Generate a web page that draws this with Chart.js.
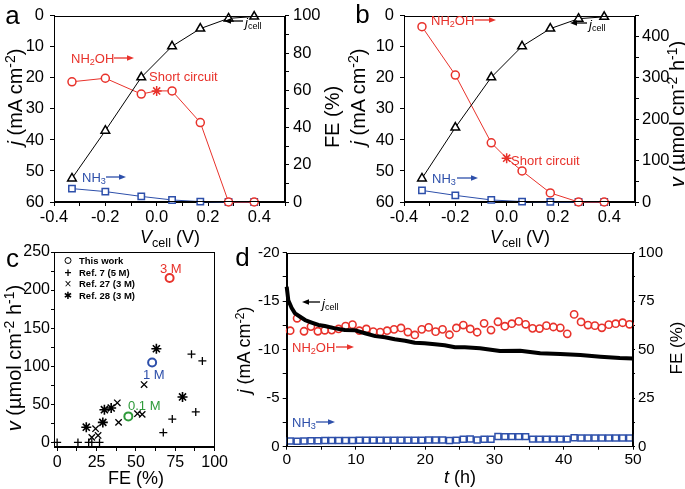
<!DOCTYPE html>
<html><head><meta charset="utf-8">
<script src="https://cdn.jsdelivr.net/npm/chart.js@4.4.1/dist/chart.umd.min.js"></script>
<style>
body{margin:0;background:#fff;}
#wrap{position:relative;width:685px;height:489px;overflow:hidden;font-family:"Liberation Sans",Arial,sans-serif;background:#fff;}
.box{position:absolute;}
.t{position:absolute;white-space:nowrap;line-height:1;}
.t sub{font-size:0.7em;vertical-align:-0.3em;line-height:0;}
.t sup{font-size:0.7em;vertical-align:0.5em;line-height:0;}
</style></head><body><div id="wrap">
<div class="box" style="left:0;top:0;width:345px;height:240px"><canvas id="ca" width="345" height="240"></canvas></div>
<div class="box" style="left:345px;top:0;width:340px;height:240px"><canvas id="cb" width="340" height="240"></canvas></div>
<div class="box" style="left:0;top:240px;width:230px;height:249px"><canvas id="cc" width="230" height="249"></canvas></div>
<div class="box" style="left:230px;top:240px;width:455px;height:249px"><canvas id="cd" width="455" height="249"></canvas></div>
</div>
<script>
// ---------------- DATA ----------------
// Panels a & b: cell voltage (V)
const vcell = [-0.33, -0.2, -0.06, 0.06, 0.17, 0.28, 0.38];
const jcellA = [52.4, 37, 19.8, 9.8, 4.1, 0.8, 0.2];          // mA cm-2
const jcellB = [52.4, 36, 19.8, 9.8, 4.1, 0.9, 0.3];
// NH2OH series include the short-circuit point at 0 V (index 3)
const vNH2OH = [-0.33, -0.2, -0.06, 0.0, 0.06, 0.17, 0.28, 0.38];
const feNH2OH_a = [64.6, 66.5, 58.0, 59.7, 59.7, 42.7, 0, 0];   // FE %
const feNH3_a = [7.2, 5.6, 3.0, 1.1, 0.2, 0, 0];
const rateNH2OH_b = [424, 307, 143, 106, 75, 22, 0, 0];         // umol cm-2 h-1
const rateNH3_b = [28, 16, 5, 1, 0.3, 0, 0];
const shortCircuitIndex = 3;

// Panel c
const thisWorkFE = [45.2, 60.3, 71.4];
const thisWorkV = [34.2, 104.9, 215.8];
const thisWorkConc = ['0.1 M', '1 M', '3 M'];
const ref7FE = [0, 13.2, 20, 22, 26.9, 67.4, 73.1, 88, 85.3, 92.2];
const ref7V = [0, 0, 0, 0, 0, 13, 30.7, 40, 115.8, 107];
const ref27FE = [22, 24.4, 26, 39, 38.2, 51, 54, 55.2];
const ref27V = [6.6, 18, 9.2, 26.3, 52, 37.7, 36.8, 76];
const ref28FE = [18.5, 29, 30, 34.3, 63, 79.6];
const ref28V = [20, 26.3, 43, 45.2, 123, 59.7];
const legendC = ['This work', 'Ref. 7 (5 M)', 'Ref. 27 (3 M)', 'Ref. 28 (3 M)'];

// Panel d
const tCurve = [0, 0.23, 0.72, 1.2, 1.93, 2.65, 3.6, 4.57, 5.5, 6.98, 8.4, 9.9, 11.3, 12.8, 14.2, 15.6, 17.1, 18.5, 19.9, 21.4, 22.8, 24.3, 25.7, 27.9, 30.8, 33.7, 36.6, 39.5, 42.4, 45.3, 48.1, 50];
const jCurve = [-16.5, -15.1, -14.3, -13.75, -13.4, -13.06, -12.8, -12.55, -12.44, -12.2, -12.03, -12.0, -11.7, -11.4, -11.28, -11.07, -10.93, -10.72, -10.66, -10.56, -10.45, -10.25, -10.25, -10.14, -9.87, -9.9, -9.63, -9.56, -9.45, -9.28, -9.14, -9.1];
const tFE = [0.5, 1.5, 2.5, 3.5, 4.5, 5.5, 6.5, 7.5, 8.5, 9.5, 10.5, 11.5, 12.5, 13.5, 14.5, 15.5, 16.5, 17.5, 18.5, 19.5, 20.5, 21.5, 22.5, 23.5, 24.5, 25.5, 26.5, 27.5, 28.5, 29.5, 30.5, 31.5, 32.5, 33.5, 34.5, 35.5, 36.5, 37.5, 38.5, 39.5, 40.5, 41.5, 42.5, 43.5, 44.5, 45.5, 46.5, 47.5, 48.5, 49.5];
const feNH2OH_d = [59.8, 66.2, 59.5, 61.9, 59.5, 60, 60.1, 60.7, 62.2, 62.9, 59.8, 60.7, 59.3, 59.1, 59.8, 60.5, 61.2, 59.1, 57.6, 60.5, 61.5, 59.3, 60.5, 57.7, 61.2, 62.7, 60.7, 59, 63.6, 60.1, 64.4, 62.1, 63.4, 64.6, 63.1, 61, 60.9, 62.4, 61.7, 61.3, 58.2, 68.2, 64.3, 62.7, 62.4, 61.3, 62.9, 63.4, 63.9, 63.1];
const feNH3_d = [2.9, 2.8, 2.9, 3.1, 3.1, 3.2, 3.2, 3.2, 3.2, 3.2, 3.3, 3.3, 3.3, 3.3, 3.3, 3.3, 3.3, 3.3, 3.3, 3.3, 3.5, 3.5, 3.5, 3.2, 3.4, 3.8, 4.0, 3.5, 3.8, 3.8, 5.3, 5.2, 5.2, 5.2, 5.2, 3.9, 3.9, 3.9, 3.9, 3.9, 3.9, 4.6, 4.5, 4.5, 4.5, 4.5, 4.5, 4.5, 4.5, 4.5];

// Tick labels
const ticksV = [-0.4, -0.2, 0.0, 0.2, 0.4];
const ticksJab = [0, 10, 20, 30, 40, 50, 60];
const ticksFEa = [0, 20, 40, 60, 80, 100];
const ticksRateB = [0, 100, 200, 300, 400];
const ticksFEc = [0, 25, 50, 75, 100];
const ticksRateC = [0, 50, 100, 150, 200, 250];
const ticksT = [0, 10, 20, 30, 40, 50];
const ticksJd = [-20, -15, -10, -5, 0];
const ticksFEd = [0, 25, 50, 75, 100];

// ---------------- STYLE ----------------
const RED = '#e8322b', BLUE = '#2d4faa', GREEN = '#2e9a3a', BLACK = '#000';
Chart.defaults.font.family = '"Liberation Sans", Arial, sans-serif';
Chart.defaults.color = '#000';

function xy(xs, ys) { return xs.map((x, i) => ({x: x, y: ys[i]})); }

function mkAxis(o) {
  return {
    type: 'linear', position: o.position, min: o.min, max: o.max, reverse: !!o.reverse,
    afterFit: s => { if (o.width !== undefined) s.width = o.width; if (o.height !== undefined) s.height = o.height; },
    border: {display: true, color: '#000', width: 1},
    grid: {display: true, drawOnChartArea: false, drawTicks: true, tickLength: o.tick === undefined ? 4 : o.tick, color: '#000', tickColor: '#000', lineWidth: 1},
    ticks: {stepSize: o.step, autoSkip: false, maxRotation: 0, minRotation: 0, includeBounds: false,
      padding: o.pad === undefined ? 3 : o.pad, color: '#000', font: {size: o.font || 16},
      callback: v => { const m = o.labels.find(l => Math.abs(l - v) < 1e-6); return m === undefined ? '' : o.fmt(m); }}
  };
}
const f1 = v => (Math.abs(v) < 1e-9 ? '0.0' : v.toFixed(1));
const f0 = v => String(v);

const frame = {id: 'frame', afterDraw(chart) {
  const a = chart.chartArea, c = chart.ctx;
  c.save(); c.strokeStyle = '#000'; c.lineWidth = 1;
  c.strokeRect(Math.round(a.left) + 0.5, Math.round(a.top) + 0.5, Math.round(a.right - a.left) - 1, Math.round(a.bottom - a.top) - 1);
  c.restore();
}};

function baseOpts(pad, scales) {
  return {responsive: false, animation: false, events: [],
    layout: {padding: pad},
    plugins: {legend: {display: false}, tooltip: {enabled: false}},
    scales: scales};
}

// ---------- Panel a ----------
const redStylesAB = vNH2OH.map((v, i) => i === shortCircuitIndex ? 'star' : 'circle');
const redRadAB = vNH2OH.map((v, i) => i === shortCircuitIndex ? 5 : 4);
new Chart(document.getElementById('ca'), {
  type: 'line',
  data: {datasets: [
    {data: xy(vcell, jcellA), yAxisID: 'y', borderColor: BLACK, borderWidth: 1, pointStyle: 'triangle', pointRadius: 5, pointBorderWidth: 1.5, pointBackgroundColor: '#fff', pointBorderColor: BLACK, clip: false},
    {data: xy(vNH2OH, feNH2OH_a), yAxisID: 'y2', borderColor: RED, borderWidth: 1, pointStyle: redStylesAB, pointRadius: redRadAB, pointBorderWidth: 1.5, pointBackgroundColor: '#fff', pointBorderColor: RED, clip: false},
    {data: xy(vcell, feNH3_a), yAxisID: 'y2', borderColor: BLUE, borderWidth: 1, pointStyle: 'rect', pointRadius: 4.5, pointBorderWidth: 1.5, pointBackgroundColor: '#fff', pointBorderColor: BLUE, clip: false}
  ]},
  options: baseOpts({top: 7.5},
    {x: mkAxis({position: 'bottom', min: -0.4, max: 0.5, step: 0.1, labels: ticksV, fmt: f1, height: 38, pad: 2, font: 16.5}),
     y: mkAxis({position: 'left', min: 0, max: 60, step: 10, reverse: true, labels: ticksJab, fmt: f0, width: 54, pad: 6, font: 16.5}),
     y2: mkAxis({position: 'right', min: 0, max: 100, step: 10, labels: ticksFEa, fmt: f0, width: 60, pad: 4, font: 16.5})}),
  plugins: [frame]
});

// ---------- Panel b ----------
new Chart(document.getElementById('cb'), {
  type: 'line',
  data: {datasets: [
    {data: xy(vcell, jcellB), yAxisID: 'y', borderColor: BLACK, borderWidth: 1, pointStyle: 'triangle', pointRadius: 5, pointBorderWidth: 1.5, pointBackgroundColor: '#fff', pointBorderColor: BLACK, clip: false},
    {data: xy(vNH2OH, rateNH2OH_b), yAxisID: 'y2', borderColor: RED, borderWidth: 1, pointStyle: redStylesAB, pointRadius: redRadAB, pointBorderWidth: 1.5, pointBackgroundColor: '#fff', pointBorderColor: RED, clip: false},
    {data: xy(vcell, rateNH3_b), yAxisID: 'y2', borderColor: BLUE, borderWidth: 1, pointStyle: 'rect', pointRadius: 4.5, pointBorderWidth: 1.5, pointBackgroundColor: '#fff', pointBorderColor: BLUE, clip: false}
  ]},
  options: baseOpts({top: 7.5},
    {x: mkAxis({position: 'bottom', min: -0.4, max: 0.5, step: 0.1, labels: ticksV, fmt: f1, height: 38, pad: 2, font: 16.5}),
     y: mkAxis({position: 'left', min: 0, max: 60, step: 10, reverse: true, labels: ticksJab, fmt: f0, width: 59, pad: 6, font: 16.5}),
     y2: mkAxis({position: 'right', min: 0, max: 450, step: 50, labels: ticksRateB, fmt: f0, width: 50, pad: 3, font: 16.5})}),
  plugins: [frame]
});

// ---------- Panel c ----------
new Chart(document.getElementById('cc'), {
  type: 'scatter',
  data: {datasets: [
    {data: xy(thisWorkFE, thisWorkV), pointStyle: 'circle', pointRadius: 4, pointBorderWidth: 2, pointBackgroundColor: '#fff', pointBorderColor: [GREEN, BLUE, RED], clip: false},
    {data: xy(ref7FE, ref7V), pointStyle: 'cross', pointRadius: 4, pointBorderWidth: 1.3, pointBorderColor: BLACK, clip: false},
    {data: xy(ref27FE, ref27V), pointStyle: 'crossRot', pointRadius: 4.5, pointBorderWidth: 1.3, pointBorderColor: BLACK, clip: false},
    {data: xy(ref28FE, ref28V), pointStyle: 'star', pointRadius: 5, pointBorderWidth: 1.6, pointBorderColor: BLACK, clip: false}
  ]},
  options: baseOpts({top: 12, right: 14},
    {x: mkAxis({position: 'bottom', min: -2, max: 100, step: 12.5, labels: ticksFEc, fmt: f0, height: 42, tick: 4, pad: 2, font: 16}),
     y: mkAxis({position: 'left', min: -6, max: 250, step: 25, labels: ticksRateC, fmt: f0, width: 54, tick: 3, pad: 1, font: 16})}),
  plugins: [frame]
});

// ---------- Panel d ----------
new Chart(document.getElementById('cd'), {
  type: 'line',
  data: {datasets: [
    {data: xy(tCurve, jCurve), yAxisID: 'y', borderColor: BLACK, borderWidth: 4, pointRadius: 0, borderJoinStyle: 'round', clip: false},
    {data: xy(tFE, feNH2OH_d), yAxisID: 'y2', showLine: false, pointStyle: 'circle', pointRadius: 3.6, pointBorderWidth: 1.6, pointBackgroundColor: 'rgba(255,255,255,0)', pointBorderColor: RED, clip: false},
    {data: xy(tFE, feNH3_d), yAxisID: 'y2', showLine: false, pointStyle: 'rect', pointRadius: 4.2, pointBorderWidth: 1.5, pointBackgroundColor: 'rgba(255,255,255,0)', pointBorderColor: BLUE, clip: false}
  ]},
  options: baseOpts({top: 12.7},
    {x: mkAxis({position: 'bottom', min: 0, max: 50, step: 5, labels: ticksT, fmt: f0, height: 42.3, tick: 3, pad: 1, font: 15.5}),
     y: mkAxis({position: 'left', min: -20, max: 0, step: 2.5, reverse: true, labels: ticksJd, fmt: f0, width: 56.7, tick: 4, pad: 3, font: 15}),
     y2: mkAxis({position: 'right', min: 0, max: 100, step: 12.5, labels: ticksFEd, fmt: f0, width: 52, tick: 2, pad: 3, font: 15})}),
  plugins: [frame]
});

// ---------------- TEXT OVERLAYS ----------------
const wrap = document.getElementById('wrap');
function txt(html, x, y, o) {
  o = o || {};
  const d = document.createElement('div'); d.className = 't'; d.innerHTML = html;
  d.style.left = x + 'px'; d.style.top = y + 'px';
  d.style.fontSize = (o.size || 13) + 'px'; d.style.color = o.color || '#000';
  if (o.bold) d.style.fontWeight = 'bold';
  if (o.family) d.style.fontFamily = o.family;
  let tf = o.center ? 'translate(-50%,-50%)' : 'translateY(-50%)';
  if (o.rot) tf += ' rotate(-90deg)';
  d.style.transform = tf;
  wrap.appendChild(d);
}
function arrow(x1, x2, y, color) {
  const ns = 'http://www.w3.org/2000/svg';
  const left = Math.min(x1, x2) - 2, w = Math.abs(x2 - x1) + 4;
  const s = document.createElementNS(ns, 'svg');
  s.setAttribute('width', w); s.setAttribute('height', 10);
  s.style.position = 'absolute'; s.style.left = left + 'px'; s.style.top = (y - 5) + 'px';
  const dir = x2 > x1 ? 1 : -1, a1 = x1 - left, a2 = x2 - left, hl = 7;
  const ln = document.createElementNS(ns, 'line');
  ln.setAttribute('x1', a1); ln.setAttribute('x2', a2 - dir * hl); ln.setAttribute('y1', 5); ln.setAttribute('y2', 5);
  ln.setAttribute('stroke', color); ln.setAttribute('stroke-width', 1.3);
  const pg = document.createElementNS(ns, 'polygon');
  pg.setAttribute('points', a2 + ',5 ' + (a2 - dir * hl) + ',2.2 ' + (a2 - dir * hl) + ',7.8');
  pg.setAttribute('fill', color);
  s.appendChild(ln); s.appendChild(pg); wrap.appendChild(s);
}
const jLbl = '<i>j</i> (mA cm<sup>-2</sup>)';
const vLbl = '<i>V</i><sub>cell</sub> (V)';
const rLbl = '<i>v</i> (&micro;mol cm<sup>-2</sup> h<sup>-1</sup>)';
const jc = '<i>j</i><sub>cell</sub>';
const nh2oh = 'NH<sub>2</sub>OH', nh3 = 'NH<sub>3</sub>';

// panel letters
txt('a', 12.5, 15, {size: 26, center: true});
txt('b', 362.5, 14, {size: 26, center: true});
txt('c', 12.5, 258, {size: 26, center: true});
txt('d', 242.5, 257, {size: 26, center: true});

// panel a
txt(jLbl, 15, 97, {size: 20, center: true, rot: true});
txt('FE (%)', 332, 117, {size: 20, center: true, rot: true});
txt(vLbl, 170, 237, {size: 18, center: true});
txt(nh2oh, 71, 58, {size: 13, color: RED}); arrow(114, 134, 58, RED);
txt('Short circuit', 149, 76, {size: 13, color: RED});
txt(jc, 245, 22, {size: 13}); arrow(243, 224, 21, BLACK);
txt(nh3, 82, 177, {size: 13, color: BLUE}); arrow(106, 126, 177, BLUE);

// panel b
txt(jLbl, 358, 97, {size: 20, center: true, rot: true});
txt(rLbl, 676.5, 114, {size: 20, center: true, rot: true});
txt(vLbl, 520, 237, {size: 18, center: true});
txt(nh2oh, 431, 20, {size: 13, color: RED}); arrow(475, 496, 20, RED);
txt('Short circuit', 511, 160, {size: 13, color: RED});
txt(jc, 589, 24, {size: 13}); arrow(587, 570, 23, BLACK);
txt(nh3, 432, 178, {size: 13, color: BLUE}); arrow(457, 478, 178, BLUE);

// panel c
txt(rLbl, 14, 358, {size: 20, center: true, rot: true});
txt('FE (%)', 136, 478, {size: 18, center: true});
const legY = [261, 272.5, 284, 295.5];
txt('<span style="display:inline-block;width:5px;height:5px;border:1.6px solid #000;border-radius:50%"></span>', 68, legY[0], {size: 10, center: true});
txt('+', 68, legY[1], {size: 12, bold: true, center: true});
txt('&times;', 68, legY[2], {size: 12, center: true});
txt('&#x2731;', 68, legY[3], {size: 10, center: true, family: '"DejaVu Sans"'});
legendC.forEach((s, i) => txt(s, 79, legY[i], {size: 9.5, bold: true}));
txt(thisWorkConc[2], 160, 268, {size: 13, color: RED});
txt(thisWorkConc[1], 143, 374, {size: 13, color: BLUE});
txt(thisWorkConc[0], 128, 405, {size: 13, color: GREEN});

// panel d
txt(jLbl, 244, 350, {size: 18, center: true, rot: true});
txt('FE (%)', 676, 348, {size: 17, center: true, rot: true});
txt('<i>t</i> (h)', 460, 477, {size: 18, center: true});
txt(jc, 322, 303, {size: 13}); arrow(320, 302, 302, BLACK);
txt(nh2oh, 292, 347, {size: 13, color: RED}); arrow(336, 354, 347, RED);
txt(nh3, 292, 422, {size: 13, color: BLUE}); arrow(316, 335, 422, BLUE);
</script>
</body></html>
